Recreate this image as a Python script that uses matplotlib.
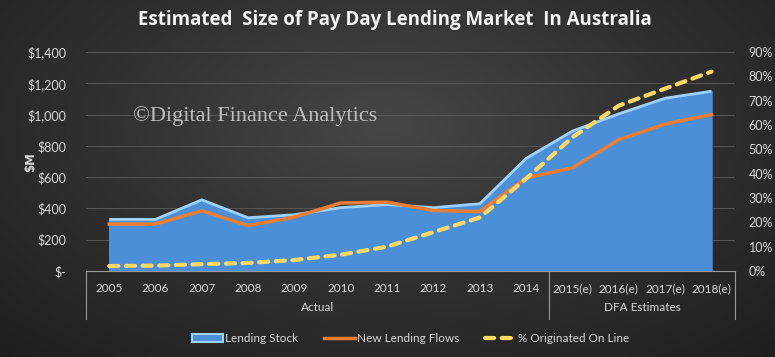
import numpy as np
import matplotlib.pyplot as plt
from matplotlib.patches import Patch
from matplotlib.lines import Line2D
import matplotlib.transforms as mtransforms

years = ['2005', '2006', '2007', '2008', '2009', '2010', '2011', '2012', '2013',
         '2014', '2015(e)', '2016(e)', '2017(e)', '2018(e)']
lending_stock = [330, 330, 455, 340, 360, 405, 425, 405, 430, 720, 895, 1005, 1105, 1150]
new_flows = [300, 300, 385, 290, 345, 435, 440, 387, 380, 595, 660, 840, 940, 1000]
pct_online = [2.0, 2.2, 2.8, 3.3, 4.5, 6.7, 10, 16, 22, 38, 55, 68, 75, 82]
groups = ['Actual', 'DFA Estimates']
group_sizes = [10, 4]
left_ticks = [0, 200, 400, 600, 800, 1000, 1200, 1400]
left_labels = ['$-', '$200', '$400', '$600', '$800', '$1,000', '$1,200', '$1,400']
right_ticks = [0, 10, 20, 30, 40, 50, 60, 70, 80, 90]

plt.rcParams['font.family'] = ['Lato', 'DejaVu Sans']
txt = '#d9d9d9'
fig = plt.figure(figsize=(7.75, 3.57), dpi=100)

# dark radial background
bg = fig.add_axes([0, 0, 1, 1], zorder=-10)
yy, xx = np.mgrid[0:1:200j, 0:1:400j]
r = np.sqrt(((xx - 0.5) / 0.75) ** 2 + ((yy - 0.35) / 0.9) ** 2)
bg.imshow(np.clip(r, 0, 1), cmap=plt.cm.colors.LinearSegmentedColormap.from_list(
    'bg', ['#464646', '#303030', '#1e1e1e']), extent=[0, 1, 0, 1], aspect='auto',
    origin='upper', vmin=0, vmax=1)
bg.axis('off')

ax = fig.add_axes([0.111, 0.241, 0.837, 0.613])
ax.set_facecolor('none')
x = np.arange(len(years))

ax.fill_between(x, lending_stock, color='#4a8fd8', zorder=2)
ax.plot(x, lending_stock, color='#9fd2fa', lw=2, zorder=3, solid_capstyle='butt')
ax.plot(x, new_flows, color='#ed7d31', lw=2.5, zorder=4)

ax.set_xlim(-0.5, len(years) - 0.5)
ax.set_ylim(0, 1400)
ax.set_yticks(left_ticks)
ax.set_yticklabels(left_labels)
ax.grid(axis='y', color='#575757', lw=0.7)
ax.set_axisbelow(True)
ax.set_xticks(x)
ax.set_xticklabels(years)
ax.tick_params(axis='x', length=0, pad=9, colors=txt, labelsize=8.5)
ax.tick_params(axis='y', length=0, pad=14, colors=txt, labelsize=9)
for s in ['top', 'right', 'left']:
    ax.spines[s].set_visible(False)
ax.spines['bottom'].set_color('#9a9a9a')
fig.text(0.039, 0.546, '$M', rotation=90, ha='center', va='center', color=txt,
         fontsize=8.5, fontweight='bold', family='DejaVu Sans')

ax2 = ax.twinx()
ax2.plot(x, pct_online, color='#ffd966', lw=3, ls=(0, (2.2, 1.8)),
         dash_capstyle='round', zorder=5)
ax2.set_ylim(0, 90)
ax2.set_yticks(right_ticks)
ax2.set_yticklabels([f'{t}%' for t in right_ticks])
ax2.tick_params(axis='y', length=0, pad=10, colors=txt, labelsize=9)
for s in ax2.spines.values():
    s.set_visible(False)

# multi-level category box
trans = mtransforms.blended_transform_factory(ax.transData, ax.transAxes)
edges = np.concatenate([[0], np.cumsum(group_sizes)]) - 0.5
for e in edges:
    ax.plot([e, e], [0, -0.22], transform=trans, color='#9a9a9a', lw=0.8, clip_on=False)
for g, a, b in zip(groups, edges[:-1], edges[1:]):
    ax.text((a + b) / 2, -0.165, g, transform=trans, ha='center', va='center',
            color=txt, fontsize=8.5)

fig.text(0.51, 0.945, 'Estimated  Size of Pay Day Lending Market  In Australia',
         ha='center', va='center', color='#f2f2f2', fontsize=13.5, fontweight='bold',
         family='Open Sans')
fig.text(0.172, 0.675, '\u00a9Digital Finance Analytics', ha='left', va='center',
         color='#bfbfbf', fontsize=16, family='Liberation Serif', zorder=10)

handles = [Patch(facecolor='#4a8fd8', edgecolor='#9fd2fa', lw=1.5),
           Line2D([], [], color='#ed7d31', lw=2.5),
           Line2D([], [], color='#ffd966', lw=3, ls=(0, (2.2, 1.8)), dash_capstyle='round')]
leg = fig.legend(handles, ['Lending Stock', 'New Lending Flows', '% Originated On Line'],
                 loc='center', bbox_to_anchor=(0.53, 0.052), ncol=3, frameon=False,
                 fontsize=8.5, labelcolor=txt, handlelength=2.6, columnspacing=2.2,
                 handletextpad=0.2)

fig.savefig('out.png', dpi=100)
